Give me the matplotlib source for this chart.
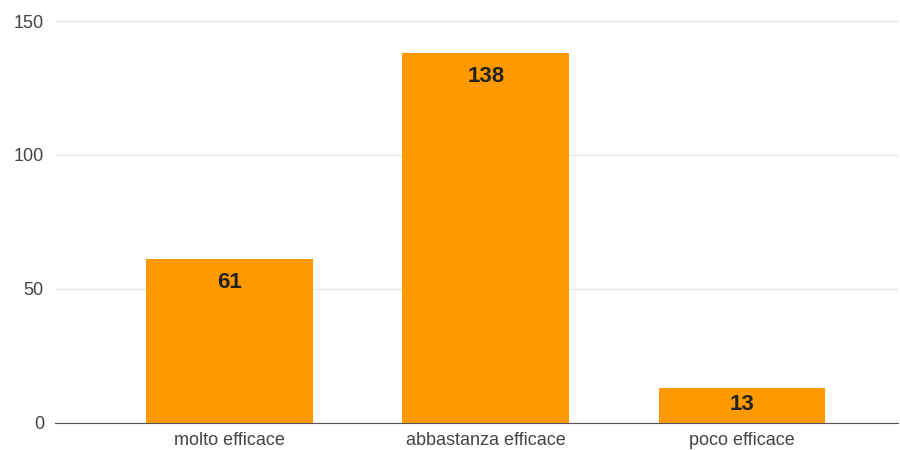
import matplotlib.pyplot as plt
import numpy as np

plt.rcParams['font.family'] = ['Liberation Sans', 'DejaVu Sans']

categories = ['molto efficace', 'abbastanza efficace', 'poco efficace']
values = [61, 138, 13]
yticks = [0, 50, 100, 150]

fig = plt.figure(figsize=(9, 4.5), dpi=100)
ax = fig.add_axes([55 / 900, 27.3 / 450, 843 / 900, 401.7 / 450])

x = np.arange(len(categories))
bars = ax.bar(x, values, width=0.65, color='#ff9900', zorder=3)

for b, v in zip(bars, values):
    h_px = v * 401.7 / 150
    off = min(16.5, h_px * 0.48 / 1.389)
    ax.annotate(str(v), (b.get_x() + b.get_width() / 2, v),
                xytext=(0, -off), textcoords='offset points',
                ha='center', va='center', fontsize=16, fontweight='bold',
                color='#222222', zorder=4)

ax.set_xlim(-0.682, 2.61)
ax.set_ylim(0, 150)
ax.set_yticks(yticks)
ax.set_xticks(x)
ax.set_xticklabels(categories)
ax.tick_params(axis='both', length=0, labelsize=13, colors='#444444')
ax.tick_params(axis='y', pad=8)
ax.tick_params(axis='x', pad=7)
ax.grid(axis='y', color='#e6e6e6', linewidth=1, zorder=0)
for s in ['top', 'right', 'left']:
    ax.spines[s].set_visible(False)
ax.spines['bottom'].set_color('#555555')
ax.spines['bottom'].set_zorder(5)

fig.savefig('out.png', dpi=100)
